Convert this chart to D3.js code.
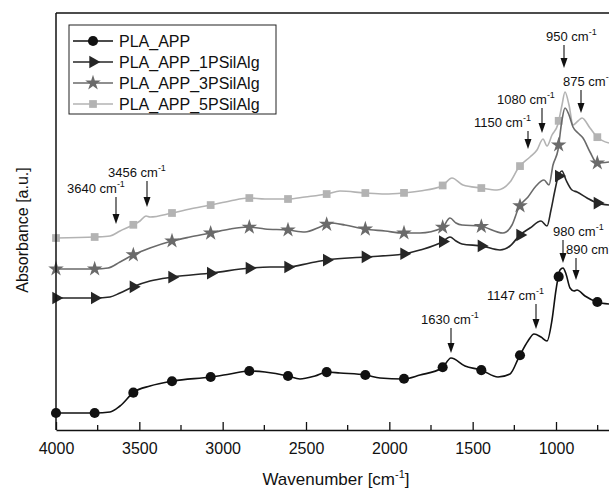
<!DOCTYPE html>
<html>
<head>
<meta charset="utf-8">
<script src="https://cdn.jsdelivr.net/npm/d3@7"></script>
<style>
html,body{margin:0;padding:0;background:#fff;}
svg{display:block;font-family:"Liberation Sans",Arial,sans-serif;}
</style>
</head>
<body>
<svg id="chart" width="609" height="489"></svg>
<script>
// ---- data (wavenumber [cm-1], absorbance [a.u.]) ----
const seriesNames = ["PLA_APP", "PLA_APP_1PSilAlg", "PLA_APP_3PSilAlg", "PLA_APP_5PSilAlg"];

const wnPLA = [4000,3766,3676,3616,3532,3436,3298,3070,2956,2842,2746,2608,2536,2446,2374,2296,2140,2056,1918,1816,1684,1630,1546,1450,1348,1276,1222,1168,1132,1090,1054,1024,1000,976,958,940,916,892,874,826,754,682];
const abPLA = [0.17,0.17,0.18,0.24,0.38,0.44,0.49,0.53,0.56,0.59,0.58,0.54,0.51,0.54,0.58,0.57,0.55,0.52,0.51,0.55,0.62,0.72,0.64,0.60,0.53,0.56,0.73,0.89,0.96,0.93,0.89,1.10,1.40,1.60,1.62,1.56,1.42,1.39,1.40,1.34,1.28,1.26];

const wn1P = [4000,3766,3676,3616,3526,3436,3298,3064,2836,2716,2608,2476,2374,2146,1918,1816,1684,1636,1600,1564,1444,1336,1276,1216,1156,1090,1054,1030,1006,988,964,940,904,874,814,754,682];
const ab1P = [1.32,1.32,1.33,1.37,1.44,1.49,1.53,1.57,1.62,1.63,1.63,1.67,1.70,1.73,1.76,1.80,1.88,1.93,1.89,1.86,1.84,1.80,1.84,1.95,2.02,2.09,2.04,2.20,2.40,2.53,2.59,2.50,2.40,2.38,2.32,2.27,2.25];

const wn3P = [4000,3766,3688,3616,3538,3436,3304,3196,3070,2956,2848,2746,2608,2506,2416,2356,2266,2146,2026,1918,1816,1684,1636,1600,1564,1456,1318,1264,1222,1168,1120,1072,1042,1018,988,964,946,922,898,868,838,796,754,682];
const ab3P = [1.61,1.61,1.62,1.68,1.75,1.82,1.89,1.93,1.97,2.01,2.03,2.01,2.00,1.98,2.03,2.07,2.05,2.01,1.99,1.97,1.97,2.02,2.12,2.07,2.05,2.04,1.97,2.05,2.23,2.33,2.44,2.50,2.45,2.65,2.80,3.10,3.22,3.15,3.03,2.97,2.92,2.78,2.67,2.68];

const wn5P = [4000,3766,3676,3616,3538,3496,3460,3436,3304,3196,3070,2956,2842,2746,2608,2506,2374,2296,2146,2026,1918,1816,1684,1624,1558,1450,1354,1276,1222,1156,1114,1078,1054,1024,988,964,946,922,898,868,844,796,754,682];
const ab5P = [1.92,1.93,1.94,1.99,2.05,2.09,2.14,2.13,2.17,2.21,2.25,2.29,2.32,2.31,2.31,2.33,2.36,2.39,2.37,2.36,2.37,2.39,2.44,2.52,2.45,2.42,2.40,2.48,2.63,2.73,2.80,2.91,2.84,2.95,3.06,3.25,3.38,3.25,3.05,3.09,3.12,3.02,2.93,2.87];

const markerWN = [4000,3768,3536,3304,3072,2840,2608,2376,2144,1912,1680,1448,1216,984,752];

const xTicks = [4000,3500,3000,2500,2000,1500,1000];
const xMinorTicks = [3750,3250,2750,2250,1750,1250,750];

const annLabels = ["3640","3456","1630","1147","980","890","1150","1080","950","875"];
const annWN     = [3640, 3454, 1630, 1120, 958, 880, 1168, 1084, 952, 850];
const annTip    = [2.06, 2.23, 0.77, 1.01, 1.67, 1.50, 2.81, 2.97, 3.62, 3.17];

// ---- layout ----
const svg = d3.select("#chart");
const L = 56, R = 609, T = 13, B = 430;
const x = d3.scaleLinear().domain([4000, 682]).range([L, R]);
const y = d3.scaleLinear().domain([0, 4.17]).range([B, T]);

const colors = ["#111111", "#262626", "#6a6a6a", "#b3b3b3"];
const symbols = [d3.symbolCircle, d3.symbolTriangle, d3.symbolStar, d3.symbolSquare];
const symSizes = [80, 70, 75, 60];
const symRot = [0, 90, 0, 0];

const series = [
  {wn: wn5P, ab: ab5P, i: 3},
  {wn: wn3P, ab: ab3P, i: 2},
  {wn: wn1P, ab: ab1P, i: 1},
  {wn: wnPLA, ab: abPLA, i: 0}
];

function interp(wns, abs, w) {
  for (let k = 0; k < wns.length - 1; k++) {
    if (w <= wns[k] && w >= wns[k+1]) {
      const t = (wns[k] - w) / (wns[k] - wns[k+1]);
      return abs[k] + t * (abs[k+1] - abs[k]);
    }
  }
  return abs[abs.length - 1];
}

const line = d3.line().x(d => x(d[0])).y(d => y(d[1])).curve(d3.curveMonotoneX);

series.forEach(s => {
  const pts = s.wn.map((w, k) => [w, s.ab[k]]);
  svg.append("path").datum(pts)
    .attr("d", line).attr("fill", "none")
    .attr("stroke", colors[s.i]).attr("stroke-width", 1.6)
    .attr("stroke-linejoin", "round");
  const sym = d3.symbol().type(symbols[s.i]).size(symSizes[s.i]);
  svg.append("g").selectAll("path").data(markerWN).join("path")
    .attr("d", sym)
    .attr("transform", w => `translate(${x(w)},${y(interp(s.wn, s.ab, w))}) rotate(${symRot[s.i]})`)
    .attr("fill", colors[s.i]);
});

// ---- axes ----
const xAxis = d3.axisBottom(x).tickValues(xTicks).tickSizeInner(-8).tickSizeOuter(0).tickPadding(13).tickFormat(d3.format("d"));
const gx = svg.append("g").attr("transform", `translate(0,${B})`).call(xAxis);
gx.select(".domain").attr("stroke", "#111").attr("stroke-width", 1.5);
gx.selectAll(".tick line").attr("stroke", "#111").attr("stroke-width", 1.3);
gx.selectAll(".tick text").attr("font-size", 16).attr("fill", "#111").attr("font-family", "Liberation Sans, Arial, sans-serif");
svg.append("g").attr("transform", `translate(0,${B})`).selectAll("line").data(xMinorTicks).join("line")
  .attr("x1", d => x(d)).attr("x2", d => x(d)).attr("y1", 0).attr("y2", -5)
  .attr("stroke", "#111").attr("stroke-width", 1.3);

// left axis & top frame
svg.append("line").attr("x1", L).attr("x2", L).attr("y1", T).attr("y2", B).attr("stroke", "#111").attr("stroke-width", 1.5);
svg.append("line").attr("x1", L).attr("x2", R).attr("y1", T).attr("y2", T).attr("stroke", "#111").attr("stroke-width", 1.5);

// axis titles
const xt = svg.append("text").attr("x", 336).attr("y", 485).attr("text-anchor", "middle")
  .attr("font-size", 17).attr("fill", "#111");
xt.append("tspan").text("Wavenumber [cm");
xt.append("tspan").attr("font-size", 11).attr("dy", -7).text("-1");
xt.append("tspan").attr("dy", 7).text("]");

svg.append("text").attr("transform", "translate(28,230) rotate(-90)").attr("text-anchor", "middle")
  .attr("font-size", 16).attr("fill", "#111").text("Absorbance [a.u.]");

// ---- annotations ----
const annLen = [27, 26, 25, 25, 23, 22, 18, 25, 23, 23];
const annDx = [-49, -39, -30, -49, -10, -10, -54, -45, -18, -18];
annLabels.forEach((lab, k) => {
  const ax = x(annWN[k]), tipY = y(annTip[k]), topY = tipY - annLen[k];
  svg.append("line").attr("x1", ax).attr("x2", ax).attr("y1", topY).attr("y2", tipY - 6)
    .attr("stroke", "#111").attr("stroke-width", 1.1);
  svg.append("path").attr("d", `M${ax-3.5},${tipY-10} L${ax+3.5},${tipY-10} L${ax},${tipY} Z`).attr("fill", "#111");
  const t = svg.append("text").attr("x", ax + annDx[k]).attr("y", topY - 4)
    .attr("font-size", 13).attr("fill", "#111");
  t.append("tspan").text(lab + " cm");
  t.append("tspan").attr("font-size", 9).attr("dy", -6).text("-1");
});

// ---- legend ----
const lg = svg.append("g");
lg.append("rect").attr("x", 69).attr("y", 25).attr("width", 207).attr("height", 89)
  .attr("fill", "#fff").attr("stroke", "#222").attr("stroke-width", 1);
seriesNames.forEach((name, i) => {
  const ly = 41 + i * 21;
  lg.append("line").attr("x1", 73).attr("x2", 113).attr("y1", ly).attr("y2", ly)
    .attr("stroke", colors[i]).attr("stroke-width", 1.6);
  lg.append("path").attr("d", d3.symbol().type(symbols[i]).size(symSizes[i]))
    .attr("transform", `translate(93,${ly}) rotate(${symRot[i]})`).attr("fill", colors[i]);
  lg.append("text").attr("x", 119).attr("y", ly + 6).attr("font-size", 16).attr("fill", "#111").text(name);
});
</script>
</body>
</html>
